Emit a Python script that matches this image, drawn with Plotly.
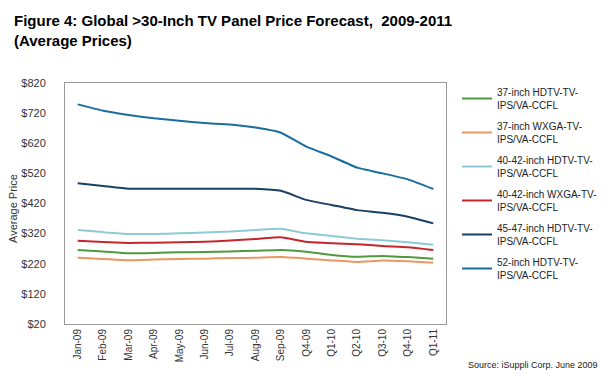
import plotly.graph_objects as go

categories = ["Jan-09", "Feb-09", "Mar-09", "Apr-09", "May-09", "Jun-09", "Jul-09", "Aug-09",
              "Sep-09", "Q4-09", "Q1-10", "Q2-10", "Q3-10", "Q4-10", "Q1-11"]

hdtv37 = [266, 261, 255, 256, 258, 259, 261, 263, 266, 260, 249, 243, 246, 242, 237]
wxga37 = [240, 236, 232, 234, 236, 237, 239, 240, 242, 237, 231, 226, 231, 228, 223]
hdtv40 = [332, 325, 319, 319, 321, 324, 327, 332, 336, 321, 312, 303, 298, 291, 283]
wxga40 = [296, 292, 289, 290, 291, 293, 297, 302, 308, 293, 288, 285, 279, 275, 266]
hdtv45 = [487, 478, 469, 469, 469, 469, 469, 469, 462, 432, 415, 398, 389, 376, 354]
hdtv52 = [749, 728, 714, 703, 695, 687, 682, 672, 655, 609, 576, 539, 520, 500, 468]

series_names = ["37-inch HDTV-TV-<br>IPS/VA-CCFL", "37-inch WXGA-TV-<br>IPS/VA-CCFL",
                "40-42-inch HDTV-TV-<br>IPS/VA-CCFL", "40-42-inch WXGA-TV-<br>IPS/VA-CCFL",
                "45-47-inch HDTV-TV-<br>IPS/VA-CCFL", "52-inch HDTV-TV-<br>IPS/VA-CCFL"]
series_values = [hdtv37, wxga37, hdtv40, wxga40, hdtv45, hdtv52]
colors = ["#4f9a3d", "#ec9660", "#8ccbd6", "#c3262e", "#193f63", "#1b6e9c"]

y_ticks = [20, 120, 220, 320, 420, 520, 620, 720, 820]
y_tick_labels = ["$" + str(v) for v in y_ticks]

# the page body adds an 8px offset; lay out in window pixels minus that offset
OFF = 8
W, H = 608 - OFF, 390 - OFF
L, R, T, B = 65 - OFF, 446 - OFF, 83 - OFF, 324 - OFF


def px_x(x):
    return (x - OFF - L) / (R - L)


def px_y(y):
    return (B - (y - OFF)) / (B - T)


fig = go.Figure()
for i, (name, vals, col) in enumerate(zip(series_names, series_values, colors)):
    fig.add_trace(go.Scatter(
        x=categories, y=vals, name=name, mode="lines",
        line=dict(color=col, width=2, shape="spline", smoothing=0.4),
        legendgroup="g%d" % i,
    ))

fig.update_layout(
    width=W, height=H,
    paper_bgcolor="white", plot_bgcolor="white",
    margin=dict(l=L, r=W - R, t=T, b=H - B, autoexpand=False),
    font=dict(family="Arial, Liberation Sans, sans-serif", color="#333333"),
    legend=dict(
        x=(457 - OFF) / W, xref="container", xanchor="left",
        y=1 - (79 - OFF) / H, yref="container", yanchor="top",
        font=dict(size=10, color="#222222"),
        tracegroupgap=5,
        itemwidth=30,
        maxheight=300,
        bgcolor="rgba(0,0,0,0)",
    ),
    showlegend=True,
)
fig.update_xaxes(
    type="category", range=[-0.5, 14.5], tickangle=-90,
    tickfont=dict(size=10, color="#333333"),
    showline=True, linecolor="#999999", linewidth=1, mirror=True,
    showgrid=False, ticks="", zeroline=False, automargin=False,
)
fig.update_yaxes(
    range=[20, 820], tickvals=y_ticks, ticktext=y_tick_labels,
    tickfont=dict(size=11, color="#333333"), ticklabelstandoff=16,
    showline=True, linecolor="#999999", linewidth=1, mirror=True,
    showgrid=False, ticks="", zeroline=False, automargin=False,
)
# y-axis title
fig.add_annotation(
    text="Average Price", textangle=-90,
    xref="paper", yref="paper", x=px_x(13), y=px_y(209),
    xanchor="center", yanchor="middle",
    showarrow=False, font=dict(size=11, color="#333333"),
)
# title
fig.add_annotation(
    text="<b>Figure 4: Global >30-Inch TV Panel Price Forecast,  2009-2011<br>(Average Prices)</b>",
    xref="paper", yref="paper", x=px_x(12), y=px_y(10),
    xanchor="left", yanchor="top", align="left",
    showarrow=False, font=dict(size=15, color="#000000"),
)
fig.add_annotation(
    text="Source: iSuppli Corp. June 2009",
    xref="paper", yref="paper", x=px_x(466), y=px_y(365),
    xanchor="left", yanchor="middle",
    showarrow=False, font=dict(size=9, color="#222222"),
)

fig.write_html("out.html")
